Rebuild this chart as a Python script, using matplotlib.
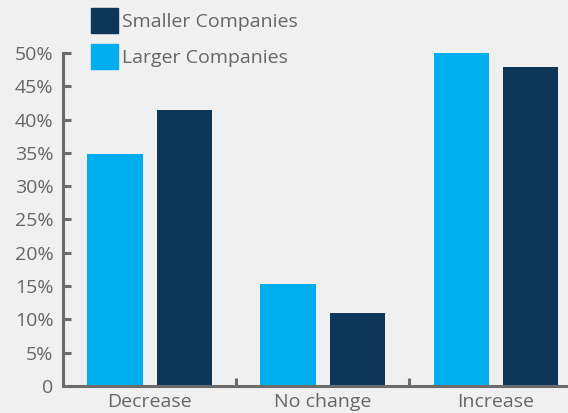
import numpy as np
import matplotlib
matplotlib.use("Agg")
import matplotlib.pyplot as plt
from matplotlib.patches import Patch

categories = ["Decrease", "No change", "Increase"]
larger = [34.8, 15.3, 50.2]
smaller = [41.4, 11.0, 47.9]
yticks = [0, 5, 10, 15, 20, 25, 30, 35, 40, 45, 50]
ytick_labels = ["0", "5%", "10%", "15%", "20%", "25%", "30%", "35%", "40%", "45%", "50%"]

bg = "#f0f0f0"
light = "#00aeef"
dark = "#0e3659"
grey = "#6b6b6b"
txt = "#666666"

plt.rcParams["font.family"] = ["Open Sans", "DejaVu Sans"]

fig = plt.figure(figsize=(5.68, 4.13), dpi=100, facecolor=bg)
ax = fig.add_axes([0.111, 0.0654, 0.889, 0.8063], facecolor=bg)

x = np.arange(len(categories))
w = 0.32
ax.bar(x - 0.2, larger, w, color=light, label="Larger Companies")
ax.bar(x + 0.2, smaller, w, color=dark, label="Smaller Companies")

ax.set_xlim(-0.5, 2.416)
ax.set_ylim(0, 50)

for s in ["top", "right"]:
    ax.spines[s].set_visible(False)
for s in ["left", "bottom"]:
    ax.spines[s].set_color(grey)
    ax.spines[s].set_linewidth(2.2)

ax.set_yticks(yticks)
ax.set_yticklabels(ytick_labels)
ax.tick_params(axis="y", direction="in", length=6, width=2.2, color=grey,
               labelsize=14, labelcolor=txt, pad=7)

# category separators on the x axis, labels centred under each group
ax.set_xticks([0.5, 1.5])
ax.set_xticklabels([])
ax.tick_params(axis="x", direction="in", length=6, width=2.2, color=grey)
for i, c in enumerate(categories):
    ax.text(i, -1.0, c, ha="center", va="top", fontsize=14, color=txt)

handles = [Patch(color=dark), Patch(color=light)]
fig.legend(handles, ["Smaller Companies", "Larger Companies"],
           loc="upper left", bbox_to_anchor=(0.160, 0.981), frameon=False,
           fontsize=14, labelcolor=txt, handlelength=1.4, handleheight=1.6,
           handletextpad=0.2, labelspacing=0.6, borderaxespad=0, borderpad=0)

fig.savefig("out.png", dpi=100, facecolor=bg)
